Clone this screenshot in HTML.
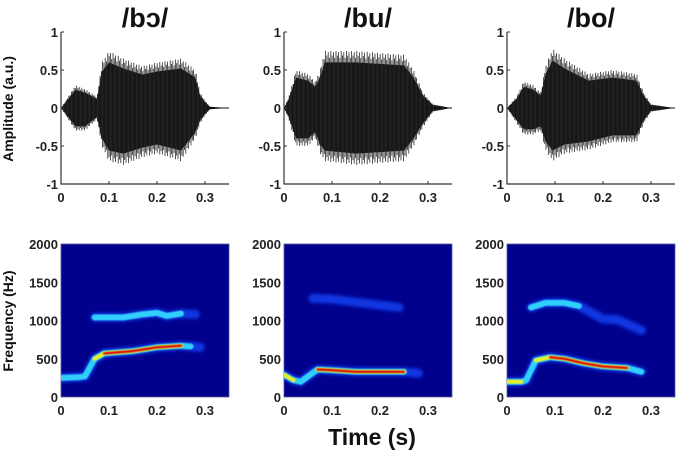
<!DOCTYPE html>
<html><head><meta charset="utf-8">
<style>
html,body{margin:0;padding:0;background:#fff;}
svg{display:block;font-family:"Liberation Sans",Arial,sans-serif;}
.tk{font-size:13px;font-weight:bold;fill:#222;}
</style></head>
<body>
<svg id="fig" width="677" height="452" viewBox="0 0 677 452" xmlns="http://www.w3.org/2000/svg">
<defs>
<filter id="blur1" filterUnits="userSpaceOnUse" x="0" y="0" width="677" height="452"><feGaussianBlur stdDeviation="1.6"/></filter>
<filter id="blur2" filterUnits="userSpaceOnUse" x="0" y="0" width="677" height="452"><feGaussianBlur stdDeviation="0.6"/></filter>
</defs>
<text x="0" y="0" transform="translate(13,109) rotate(-90)" text-anchor="middle" font-size="14" font-weight="bold" fill="#111">Amplitude (a.u.)</text>
<text x="0" y="0" transform="translate(13,321) rotate(-90)" text-anchor="middle" font-size="14" font-weight="bold" fill="#111">Frequency (Hz)</text>
<text x="372" y="445" text-anchor="middle" font-size="23" font-weight="bold" fill="#111">Time (s)</text>
</svg>
<script>
// ---- data ----
const titles = ["/bɔ/", "/bu/", "/bo/"];
const xTicks = [0, 0.1, 0.2, 0.3];
const ampTicks = [1, 0.5, 0, -0.5, -1];
const ampTickLabels = ["1", "0.5", "0", "-0.5", "-1"];
const freqTicks = [2000, 1500, 1000, 500, 0];
// waveform envelopes (time s, upper, lower)
const envT0 = [0,0.01,0.03,0.05,0.075,0.085,0.1,0.13,0.17,0.2,0.25,0.28,0.29,0.3,0.31,0.35];
const envU0 = [0,0.1,0.3,0.25,0.15,0.6,0.75,0.65,0.55,0.6,0.65,0.5,0.2,0.1,0.02,0];
const envL0 = [0,-0.1,-0.3,-0.3,-0.15,-0.5,-0.7,-0.75,-0.65,-0.6,-0.7,-0.4,-0.2,-0.1,-0.02,0];
const envT1 = [0,0.01,0.025,0.05,0.065,0.075,0.085,0.15,0.25,0.27,0.29,0.31,0.35];
const envU1 = [0,0.15,0.5,0.45,0.35,0.5,0.75,0.75,0.7,0.5,0.2,0.05,0];
const envL1 = [0,-0.15,-0.5,-0.5,-0.4,-0.6,-0.7,-0.75,-0.7,-0.5,-0.25,-0.05,0];
const envT2 = [0,0.02,0.035,0.055,0.07,0.08,0.095,0.12,0.17,0.22,0.27,0.285,0.3,0.35];
const envU2 = [0,0.15,0.35,0.3,0.2,0.55,0.78,0.65,0.45,0.5,0.45,0.2,0.05,0];
const envL2 = [0,-0.2,-0.35,-0.35,-0.3,-0.55,-0.7,-0.6,-0.55,-0.45,-0.45,-0.2,-0.05,0];
// formant tracks (time s, Hz, strength 0..1)
const f1T0 = [0,0.04,0.05,0.07,0.09,0.15,0.2,0.25,0.27,0.29];
const f1F0 = [250,260,270,500,570,600,650,670,660,650];
const f1S0 = [0.6,0.6,0.5,0.7,0.95,0.9,0.9,0.95,0.6,0.2];
const f2T0 = [0.07,0.1,0.13,0.17,0.2,0.22,0.25,0.28];
const f2F0 = [1040,1040,1040,1080,1100,1060,1090,1080];
const f2S0 = [0.5,0.55,0.55,0.55,0.55,0.5,0.5,0.2];
const f1T1 = [0,0.02,0.035,0.05,0.07,0.1,0.15,0.2,0.25,0.28];
const f1F1 = [290,220,200,270,360,350,330,330,330,310];
const f1S1 = [0.7,0.7,0.6,0.6,0.95,0.95,0.9,0.9,0.9,0.3];
const f2T1 = [0.06,0.1,0.15,0.2,0.24];
const f2F1 = [1290,1280,1240,1200,1170];
const f2S1 = [0.3,0.3,0.3,0.3,0.2];
const f1T2 = [0,0.03,0.04,0.06,0.09,0.12,0.16,0.2,0.25,0.28];
const f1F2 = [200,200,220,480,520,500,440,400,380,330];
const f1S2 = [0.7,0.7,0.5,0.7,0.95,0.95,0.88,0.86,0.86,0.4];
const f2T2 = [0.05,0.08,0.12,0.15,0.2,0.23,0.28];
const f2F2 = [1170,1230,1230,1190,1020,1010,870];
const f2S2 = [0.4,0.5,0.45,0.4,0.35,0.3,0.2];

const envs = [[envT0,envU0,envL0],[envT1,envU1,envL1],[envT2,envU2,envL2]];
const forms = [[[f1T0,f1F0,f1S0],[f2T0,f2F0,f2S0]],[[f1T1,f1F1,f1S1],[f2T1,f2F1,f2S1]],[[f1T2,f1F2,f1S2],[f2T2,f2F2,f2S2]]];

// ---- layout ----
const NS = "http://www.w3.org/2000/svg";
const svg = document.getElementById("fig");
const panelX = [61, 284, 507];
const PW = 168, TMAX = 0.35;
const wTop = 32, wBot = 184;
const sTop = 244, sBot = 397;
function mk(tag, attrs, parent) {
  const e = document.createElementNS(NS, tag);
  for (const k in attrs) e.setAttribute(k, attrs[k]);
  (parent || svg).appendChild(e);
  return e;
}
function interp(ts, vs, t) {
  if (t <= ts[0]) return vs[0];
  for (let i = 1; i < ts.length; i++) if (t <= ts[i]) {
    const a = (t - ts[i-1]) / (ts[i] - ts[i-1]);
    return vs[i-1] + a * (vs[i] - vs[i-1]);
  }
  return vs[vs.length-1];
}

for (let p = 0; p < 3; p++) {
  const x0 = panelX[p];
  const xs = t => x0 + t / TMAX * PW;
  const ya = v => (wTop + wBot) / 2 - v * (wBot - wTop) / 2;
  const yf = f => sBot - f / 2000 * (sBot - sTop);

  const title = mk("text", {x: x0 + PW/2, y: 27, "text-anchor": "middle", "font-size": 27, "font-weight": "bold", fill: "#111"});
  
  
  title.textContent = titles[p];

  // waveform
  const g = mk("g", {});
  
  
  const [eT, eU, eL] = envs[p];
  let up = [], lo = [];
  for (let px = 0; px <= PW; px += 1) {
    const t = px / PW * TMAX;
    up.push(xs(t).toFixed(1) + "," + ya(interp(eT, eU, t) * 0.8).toFixed(1));
    lo.unshift(xs(t).toFixed(1) + "," + ya(interp(eT, eL, t) * 0.8).toFixed(1));
  }
  const wf = mk("polygon", {points: up.concat(lo).join(" "), fill: "#050505"}, g);
  
  
  let n = 0;
  for (let px = 0; px < PW; px += 1.3, n++) {
    const t = px / PW * TMAX;
    const u = interp(eT, eU, t), l = interp(eT, eL, t);
    if (u - l < 0.04) continue;
    const k = [1, 0.92, 0.98, 0.88][n % 4];
    mk("line", {x1: xs(t), x2: xs(t), y1: ya(u * k), y2: ya(l * k), stroke: "#2a2a2a", "stroke-width": 0.8}, g);
  }
  mk("line", {x1: xs(0.3), x2: x0+PW, y1: ya(0), y2: ya(0), stroke: "#111", "stroke-width": 1}, g);
  const ax = mk("path", {d: `M${x0},${wTop}V${wBot}H${x0+PW}`, fill: "none", stroke: "#333", "stroke-width": 1.2});
  
  
  ampTicks.forEach((v, i) => {
    mk("line", {x1: x0, x2: x0+3, y1: ya(v), y2: ya(v), stroke: "#333"});
    const tl = mk("text", {x: x0 - 3, y: ya(v) + 5, "text-anchor": "end", class: "tk"});
    
    
    tl.textContent = ampTickLabels[i];
  });
  xTicks.forEach(v => {
    mk("line", {x1: xs(v), x2: xs(v), y1: wBot, y2: wBot-3, stroke: "#333"});
    const tl = mk("text", {x: xs(v), y: 202, "text-anchor": "middle", class: "tk"});
    
    
    tl.textContent = String(v);
  });

  // spectrogram
  const sg = mk("g", {});
  
  
  const bg = mk("rect", {x: x0, y: sTop, width: PW, height: sBot - sTop, fill: "#00008c", stroke: "#5a5aa0", "stroke-width": 0.8}, sg);
  
  
  const clip = mk("clipPath", {id: "cp" + p});
  mk("rect", {x: x0, y: sTop, width: PW, height: sBot - sTop}, clip);
  const inner = mk("g", {"clip-path": `url(#cp${p})`}, sg);
  forms[p].forEach((fm, fi) => {
    const [fT, fF, fS] = fm;
    const fg = mk("g", {}, inner);
    
    
    const layers = [
      {w: 9, min: 0, col: "#1848ff", op: 0.75, f: "blur1"},
      {w: 6, min: 0.4, col: "#30d8ff", op: 0.95, f: "blur2"},
      {w: 4, min: 0.65, col: "#e8f020", op: 1, f: "blur2"},
      {w: 2.4, min: 0.85, col: "#d81010", op: 1, f: "blur2"}
    ];
    layers.forEach(L => {
      let run = [];
      const flush = () => {
        if (run.length >= 2) {
          mk("polyline", {points: run.join(" "), fill: "none", stroke: L.col, "stroke-width": L.w,
            "stroke-linecap": "round", "stroke-linejoin": "round", opacity: L.op, filter: `url(#${L.f})`}, fg);
        }
        run = [];
      };
      for (let i = 0; i < fT.length; i++) {
        if (fS[i] >= L.min) run.push(xs(fT[i]).toFixed(1) + "," + yf(fF[i]).toFixed(1));
        else flush();
      }
      flush();
    });
  });
  freqTicks.forEach(v => {
    const tl = mk("text", {x: x0 - 3, y: yf(v) + 5, "text-anchor": "end", class: "tk"});
    
    
    tl.textContent = String(v);
  });
  xTicks.forEach(v => {
    const tl = mk("text", {x: xs(v), y: 415, "text-anchor": "middle", class: "tk"});
    
    
    tl.textContent = String(v);
  });
}
</script>
</body></html>
